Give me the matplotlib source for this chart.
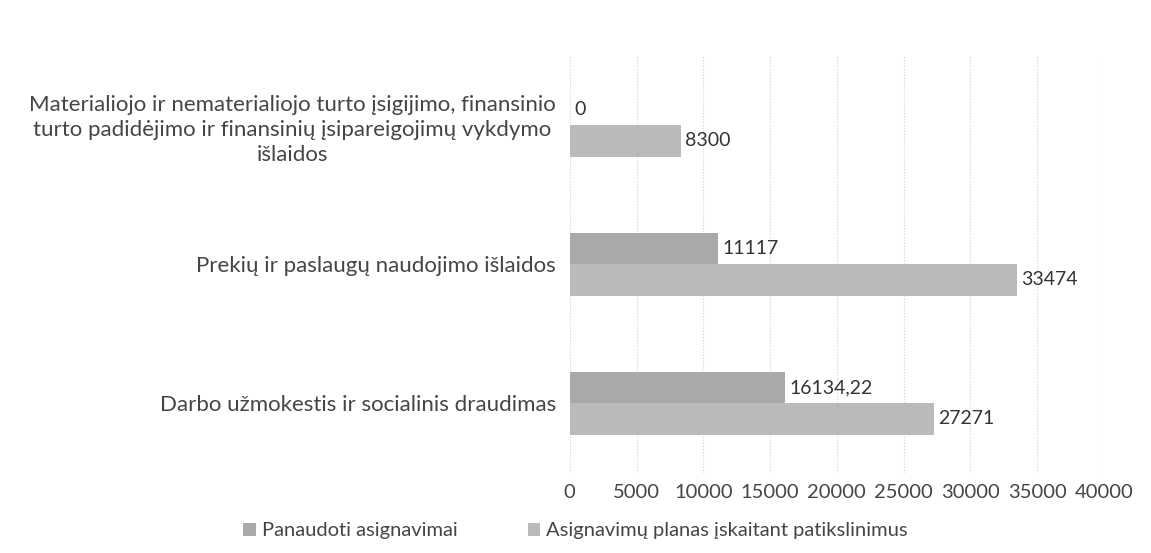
import matplotlib.pyplot as plt
import numpy as np

# Data (top to bottom)
categories = [
    "Materialiojo ir nematerialiojo turto įsigijimo, finansinio\nturto padidėjimo ir finansinių įsipareigojimų vykdymo\nišlaidos",
    "Prekių ir paslaugų naudojimo išlaidos",
    "Darbo užmokestis ir socialinis draudimas",
]
panaudoti = [0, 11117, 16134.22]
planas = [8300, 33474, 27271]
panaudoti_labels = ["0", "11117", "16134,22"]
planas_labels = ["8300", "33474", "27271"]
series_names = ["Panaudoti asignavimai", "Asignavimų planas įskaitant patikslinimus"]
xticks = [0, 5000, 10000, 15000, 20000, 25000, 30000, 35000, 40000]

plt.rcParams['font.family'] = ['Lato', 'DejaVu Sans']
text_color = '#454545'

fig = plt.figure(figsize=(11.51, 5.53), dpi=100)
ax = fig.add_axes([0.495, 0.145, 0.464, 0.754])

y = np.arange(len(categories))
h = 0.225
b1 = ax.barh(y - h / 2, panaudoti, height=h, color='#a9a9a9', label=series_names[0])
b2 = ax.barh(y + h / 2, planas, height=h, color='#bababa', label=series_names[1])

# data labels to the right of each bar
for rect, lab in zip(b1, panaudoti_labels):
    ax.annotate(lab, (rect.get_width(), rect.get_y() + rect.get_height() / 2),
                xytext=(3, 0), textcoords='offset points', va='center', ha='left',
                fontsize=14, color='#333333')
for rect, lab in zip(b2, planas_labels):
    ax.annotate(lab, (rect.get_width(), rect.get_y() + rect.get_height() / 2),
                xytext=(3, 0), textcoords='offset points', va='center', ha='left',
                fontsize=14, color='#333333')

ax.set_xlim(0, 40000)
ax.set_ylim(2.5, -0.5)
ax.set_xticks(xticks)
ax.set_xticklabels([str(t) for t in xticks])
ax.set_yticks(y)
ax.set_yticklabels(categories, multialignment='center', linespacing=1.3)
ax.tick_params(axis='both', length=0, colors=text_color)
ax.tick_params(axis='y', pad=10, labelsize=16)
ax.tick_params(axis='x', pad=8, labelsize=14.5)
ax.xaxis.grid(True, linestyle=':', color='#d0d0d0', linewidth=0.8)
ax.set_axisbelow(True)
for s in ax.spines.values():
    s.set_visible(False)

fig.legend(handles=[b1, b2], labels=series_names, loc='center',
           bbox_to_anchor=(0.5, 0.04), ncol=2, frameon=False,
           fontsize=14.5, labelcolor=text_color, handlelength=0.6,
           handleheight=0.6, columnspacing=3.5, handletextpad=0.3)

fig.savefig('out.png', dpi=100)
